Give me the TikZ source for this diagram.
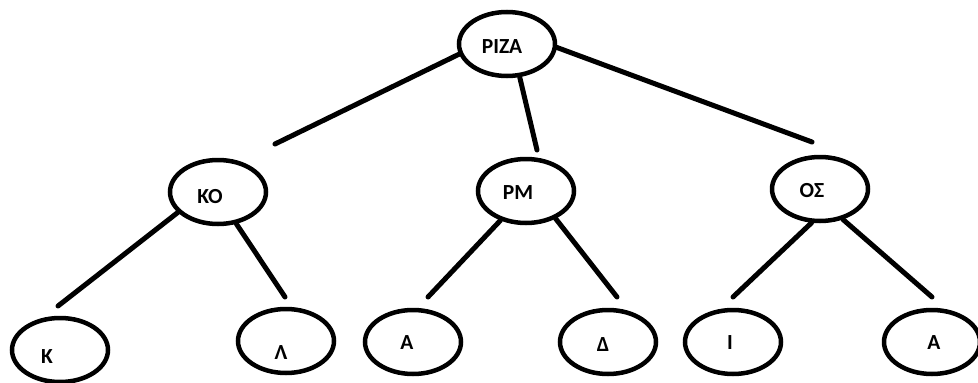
\documentclass[tikz,border=0pt]{standalone}
\usepackage{fontspec}
\setmainfont{Carlito}
\usetikzlibrary{shapes.geometric}
\begin{document}
\begin{tikzpicture}[x=1pt,y=-1pt,
  el/.style={ellipse,draw=black,fill=white,line width=4.5pt,minimum width=96pt,minimum height=64pt,inner sep=0pt},
  lbl/.style={font=\bfseries\fontsize{21.5}{21.5}\selectfont,inner sep=0pt},
  edge/.style={line width=5pt,line cap=round}]
\useasboundingbox[fill=white] (0,0) rectangle (978,383);
% free ends of connectors
\coordinate (e1) at (275,144);
\coordinate (e2) at (537,150);
\coordinate (e3) at (812,142);
\coordinate (e4) at (58,306);
\coordinate (e5) at (285,297);
\coordinate (e6) at (428,297);
\coordinate (e7) at (617,297);
\coordinate (e8) at (733,297);
\coordinate (e9) at (932,297);
% nodes
\node[el] (pz) at (507,44) {};
\node[el] (ko) at (218,192) {};
\node[el] (rm) at (526,191) {};
\node[el] (os) at (820,189) {};
\node[el] (k) at (60,350) {};
\node[el] (l) at (286,341) {};
\node[el] (a1) at (413,342) {};
\node[el] (d) at (608,342) {};
\node[el] (i) at (733,342) {};
\node[el] (a2) at (932,342) {};
% connectors
\draw[edge] (pz.192) -- (e1);
\draw[edge] (pz.291) -- (e2);
\draw[edge] (pz.356) -- (e3);
\draw[edge] (ko.207) -- (e4);
\draw[edge] (ko.300) -- (e5);
\draw[edge] (rm.229) -- (e6);
\draw[edge] (rm.317) -- (e7);
\draw[edge] (os.256) -- (e8);
\draw[edge] (os.307) -- (e9);
% labels
\node[lbl] (pzt) at (502,47) {ΡΙΖΑ};
\node[lbl] (kot) at (210,197) {ΚΟ};
\node[lbl] (rmt) at (518,193) {ΡΜ};
\node[lbl] (ost) at (812,191) {ΟΣ};
\node[lbl] (kt) at (47,357) {Κ};
\node[lbl] (lt) at (281,353) {Λ};
\node[lbl] (a1t) at (407,343) {Α};
\node[lbl] (dt) at (603,345) {Δ};
\node[lbl] (it) at (730,343) {Ι};
\node[lbl] (a2t) at (934,343) {Α};
\end{tikzpicture}
\end{document}
